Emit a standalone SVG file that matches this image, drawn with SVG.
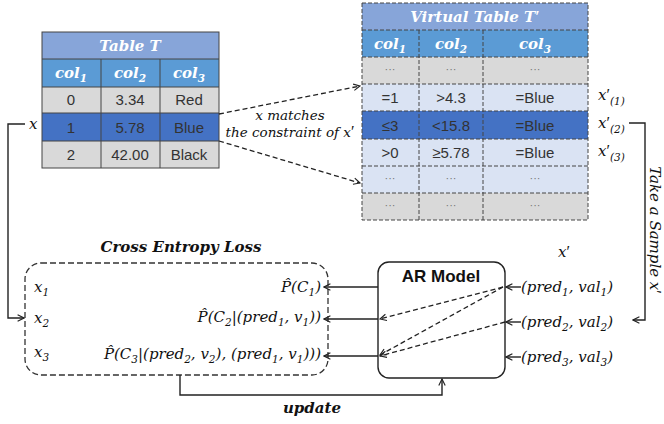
<svg xmlns="http://www.w3.org/2000/svg" width="664" height="424" viewBox="0 0 664 424">
<style>
.cell{font-family:"Liberation Sans",Arial,sans-serif;font-size:15px;fill:#333;text-anchor:middle}
.dots{font-family:"Liberation Sans",Arial,sans-serif;font-size:11px;fill:#777;text-anchor:middle}
.hd{font-family:"DejaVu Serif","Liberation Serif",serif;font-size:15px;font-weight:bold;font-style:italic;fill:#fff;text-anchor:middle}
.m{font-family:"DejaVu Serif","Liberation Serif",serif;font-size:15px;font-style:italic;fill:#111}
.s{font-size:13.5px}
.b{font-family:"DejaVu Serif","Liberation Serif",serif;font-size:15px;font-weight:bold;font-style:italic;fill:#111}
.sub{font-size:10.5px}
.pr{font-family:"Liberation Serif",serif;font-style:normal;font-weight:normal;font-size:16px}
.ln{stroke:#222;stroke-width:1.4;fill:none}
.dl{stroke:#222;stroke-width:1.3;fill:none;stroke-dasharray:5,3}
.grid{stroke:#444;stroke-width:1;fill:none}
.vgrid{stroke:#444;stroke-width:1;fill:none;stroke-dasharray:4,2}
</style>
<defs>
<marker id="ah" viewBox="0 0 10 10" refX="9" refY="5" markerWidth="8" markerHeight="8" orient="auto-start-reverse" markerUnits="userSpaceOnUse">
<path d="M1,1 L9,5 L1,9" fill="none" stroke="#222" stroke-width="1.4"/>
</marker>
</defs>

<g id="table-t">
<rect x="42" y="32" width="177" height="27" fill="#87A5D9"/>
<rect x="42" y="59" width="177" height="28" fill="#5B9BD5"/>
<rect x="42" y="87" width="177" height="26" fill="#D9D9D9"/>
<rect x="42" y="113" width="177" height="28" fill="#4472C4"/>
<rect x="42" y="141" width="177" height="27" fill="#D9D9D9"/>
<rect class="grid" x="42" y="32" width="177" height="136"/>
<path class="grid" d="M42,59H219M42,87H219M42,113H219M42,141H219M101,59V168M160,59V168"/>
<text class="hd" x="130" y="51">Table T</text>
<text class="hd" x="71" y="78">col<tspan class="sub" dy="4">1</tspan></text>
<text class="hd" x="130" y="78">col<tspan class="sub" dy="4">2</tspan></text>
<text class="hd" x="189" y="78">col<tspan class="sub" dy="4">3</tspan></text>
<text class="cell" x="71" y="105">0</text><text class="cell" x="130" y="105">3.34</text><text class="cell" x="189" y="105">Red</text>
<text class="cell" x="71" y="133">1</text><text class="cell" x="130" y="133">5.78</text><text class="cell" x="189" y="133">Blue</text>
<text class="cell" x="71" y="160">2</text><text class="cell" x="130" y="160">42.00</text><text class="cell" x="189" y="160">Black</text>
</g>

<g id="virtual-table">
<rect x="362" y="3" width="226" height="27" fill="#87A5D9"/>
<rect x="362" y="30" width="226" height="27" fill="#5B9BD5"/>
<rect x="362" y="57" width="226" height="27" fill="#D9D9D9"/>
<rect x="362" y="84" width="226" height="27" fill="#DAE3F3"/>
<rect x="362" y="111" width="226" height="28" fill="#4472C4"/>
<rect x="362" y="139" width="226" height="27" fill="#DAE3F3"/>
<rect x="362" y="166" width="226" height="27" fill="#DAE3F3"/>
<rect x="362" y="193" width="226" height="27" fill="#D9D9D9"/>
<rect class="vgrid" x="362" y="3" width="226" height="217"/>
<path class="vgrid" d="M362,30H588M362,57H588M362,84H588M362,111H588M362,139H588M362,166H588M362,193H588M419,30V220M483,30V220"/>
<text class="hd" x="475" y="22">Virtual Table T<tspan class="pr" style="font-weight:bold">′</tspan></text>
<text class="hd" x="390" y="49">col<tspan class="sub" dy="4">1</tspan></text>
<text class="hd" x="451" y="49">col<tspan class="sub" dy="4">2</tspan></text>
<text class="hd" x="535" y="49">col<tspan class="sub" dy="4">3</tspan></text>
<text class="dots" x="390" y="73">···</text><text class="dots" x="451" y="73">···</text><text class="dots" x="535" y="73">···</text>
<text class="cell" x="390" y="103">=1</text><text class="cell" x="451" y="103">&gt;4.3</text><text class="cell" x="535" y="103">=Blue</text>
<text class="cell" x="390" y="131">≤3</text><text class="cell" x="451" y="131">&lt;15.8</text><text class="cell" x="535" y="131">=Blue</text>
<text class="cell" x="390" y="158">&gt;0</text><text class="cell" x="451" y="158">≥5.78</text><text class="cell" x="535" y="158">=Blue</text>
<text class="dots" x="390" y="182">···</text><text class="dots" x="451" y="182">···</text><text class="dots" x="535" y="182">···</text>
<text class="dots" x="390" y="209">···</text><text class="dots" x="451" y="209">···</text><text class="dots" x="535" y="209">···</text>
</g>

<g id="samples">
<text class="m" x="598" y="100">x<tspan class="pr">′</tspan><tspan class="sub" dy="5">(1)</tspan></text>
<text class="m" x="598" y="128">x<tspan class="pr">′</tspan><tspan class="sub" dy="5">(2)</tspan></text>
<text class="m" x="598" y="156">x<tspan class="pr">′</tspan><tspan class="sub" dy="5">(3)</tspan></text>
<text class="m" x="0" y="0" transform="translate(650,230) rotate(90)" text-anchor="middle">Take a Sample x<tspan class="pr">′</tspan></text>
</g>

<g id="x-label">
<text class="m" x="29" y="129">x</text>
</g>

<g id="loss">
<text class="b" x="181" y="252" text-anchor="middle">Cross Entropy Loss</text>
<rect x="25" y="263" width="303" height="112" rx="16" fill="none" stroke="#333" stroke-width="1.3" stroke-dasharray="6,3"/>
<text class="m" x="34" y="292">x<tspan class="sub" dy="4">1</tspan></text>
<text class="m" x="34" y="323">x<tspan class="sub" dy="4">2</tspan></text>
<text class="m" x="34" y="357">x<tspan class="sub" dy="4">3</tspan></text>
<text class="m" x="321" y="292" text-anchor="end">P̂(C<tspan class="sub" dy="4">1</tspan><tspan dy="-4">)</tspan></text>
<text class="m" x="321" y="322" text-anchor="end">P̂(C<tspan class="sub" dy="4">2</tspan><tspan dy="-4">|(pred</tspan><tspan class="sub" dy="4">1</tspan><tspan dy="-4">, v</tspan><tspan class="sub" dy="4">1</tspan><tspan dy="-4">))</tspan></text>
<text class="m" x="321" y="359" text-anchor="end">P̂(C<tspan class="sub" dy="4">3</tspan><tspan dy="-4">|(pred</tspan><tspan class="sub" dy="4">2</tspan><tspan dy="-4">, v</tspan><tspan class="sub" dy="4">2</tspan><tspan dy="-4">), (pred</tspan><tspan class="sub" dy="4">1</tspan><tspan dy="-4">, v</tspan><tspan class="sub" dy="4">1</tspan><tspan dy="-4">)))</tspan></text>
</g>

<g id="ar-model">
<rect x="378" y="262" width="127" height="116" rx="11" fill="#fff" stroke="#222" stroke-width="1.4"/>
<text x="441" y="282" text-anchor="middle" style="font-family:'Liberation Sans',Arial,sans-serif;font-size:17px;font-weight:bold;fill:#111">AR Model</text>
</g>

<g id="inputs">
<text class="m" x="521" y="292">(pred<tspan class="sub" dy="4">1</tspan><tspan dy="-4">, val</tspan><tspan class="sub" dy="4">1</tspan><tspan dy="-4">)</tspan></text>
<text class="m" x="521" y="327">(pred<tspan class="sub" dy="4">2</tspan><tspan dy="-4">, val</tspan><tspan class="sub" dy="4">2</tspan><tspan dy="-4">)</tspan></text>
<text class="m" x="521" y="362">(pred<tspan class="sub" dy="4">3</tspan><tspan dy="-4">, val</tspan><tspan class="sub" dy="4">3</tspan><tspan dy="-4">)</tspan></text>
<text class="m" x="558" y="257">x<tspan class="pr">′</tspan></text>
</g>

<g id="connectors">
<path class="dl" d="M219,114 L360,86" marker-end="url(#ah)"/>
<path class="dl" d="M219,141 L360,183" marker-end="url(#ah)"/>
<text class="m s" x="290" y="120" text-anchor="middle">x matches</text>
<text class="m s" x="290" y="137" text-anchor="middle">the constraint of x<tspan class="pr">′</tspan></text>
<path class="ln" d="M25,124 H8 V318 H24" marker-end="url(#ah)"/>
<path class="ln" d="M629,123 H645 V320 H633" marker-end="url(#ah)"/>
<path class="ln" d="M378,287 H324" marker-end="url(#ah)"/>
<path class="ln" d="M378,319 H324" marker-end="url(#ah)"/>
<path class="ln" d="M378,356 H324" marker-end="url(#ah)"/>
<path class="dl" d="M503,287 L380,319" marker-end="url(#ah)"/>
<path class="dl" d="M503,287 L380,355" marker-end="url(#ah)"/>
<path class="dl" d="M505,322 L380,356" marker-end="url(#ah)"/>
<path class="ln" d="M521,287 H506" marker-end="url(#ah)"/>
<path class="ln" d="M521,322 H506" marker-end="url(#ah)"/>
<path class="ln" d="M521,357 H506" marker-end="url(#ah)"/>
<path class="ln" d="M180,375 V395 H442 V379" marker-end="url(#ah)"/>
<text class="b" x="312" y="413" text-anchor="middle">update</text>
</g>
</svg>
